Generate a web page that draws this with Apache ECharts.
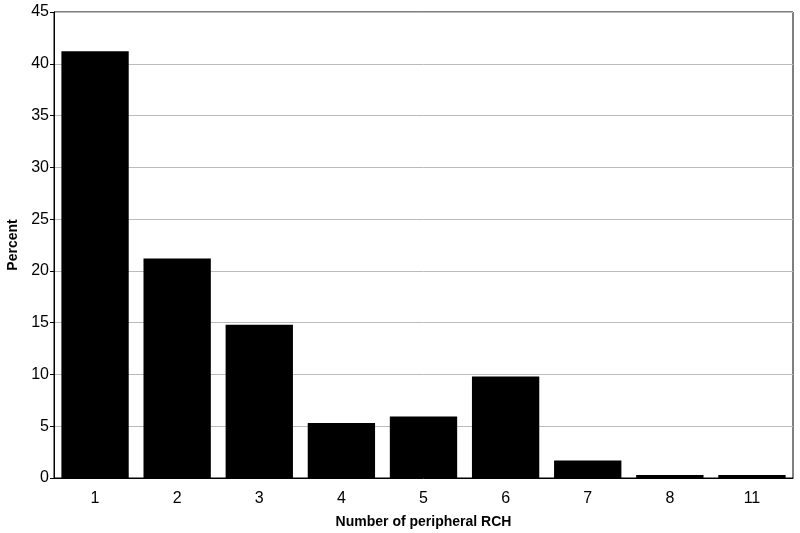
<!DOCTYPE html>
<html>
<head>
<meta charset="utf-8">
<script src="https://cdn.jsdelivr.net/npm/echarts@6/dist/echarts.min.js"></script>
<style>
  html, body { margin: 0; padding: 0; background: #fff; }
  #chart { width: 800px; height: 533px; }
</style>
</head>
<body>
<div id="chart"></div>
<script>
var categories = ['1', '2', '3', '4', '5', '6', '7', '8', '11'];
var percentValues = [41.2, 21.2, 14.8, 5.3, 5.95, 9.8, 1.7, 0.3, 0.3];
var yTicks = [0, 5, 10, 15, 20, 25, 30, 35, 40, 45];

var chart = echarts.init(document.getElementById('chart'), null, { renderer: 'canvas' });

var option = {
  animation: false,
  grid: {
    left: 54, right: 7, top: 12, bottom: 55,
    containLabel: false,
    outerBoundsMode: 'none',
    show: true,
    borderColor: '#000',
    borderWidth: 1
  },
  xAxis: {
    type: 'category',
    data: categories,
    name: 'Number of peripheral RCH',
    nameLocation: 'middle',
    nameGap: 37,
    nameTextStyle: { fontFamily: 'Liberation Sans', fontSize: 14, fontWeight: 'bold', color: '#000' },
    axisLine: { lineStyle: { color: '#000' } },
    axisTick: { show: false },
    axisLabel: { fontFamily: 'Liberation Sans', fontSize: 16, color: '#000', margin: 13 }
  },
  yAxis: {
    type: 'value',
    min: yTicks[0],
    max: yTicks[yTicks.length - 1],
    interval: 5,
    name: 'Percent',
    nameLocation: 'middle',
    nameGap: 33,
    nameTextStyle: { fontFamily: 'Liberation Sans', fontSize: 14, fontWeight: 'bold', color: '#000' },
    axisLine: { show: true, lineStyle: { color: '#000' } },
    axisTick: { show: true, length: 4, lineStyle: { color: '#000' } },
    axisLabel: { fontFamily: 'Liberation Sans', fontSize: 16, color: '#000', margin: 5 },
    splitLine: { lineStyle: { color: '#bbb', width: 1 } }
  },
  series: [{
    type: 'bar',
    data: percentValues,
    barWidth: '82%',
    itemStyle: { color: '#000' }
  }]
};

chart.setOption(option);
window.addEventListener('resize', chart.resize);
</script>
</body>
</html>
